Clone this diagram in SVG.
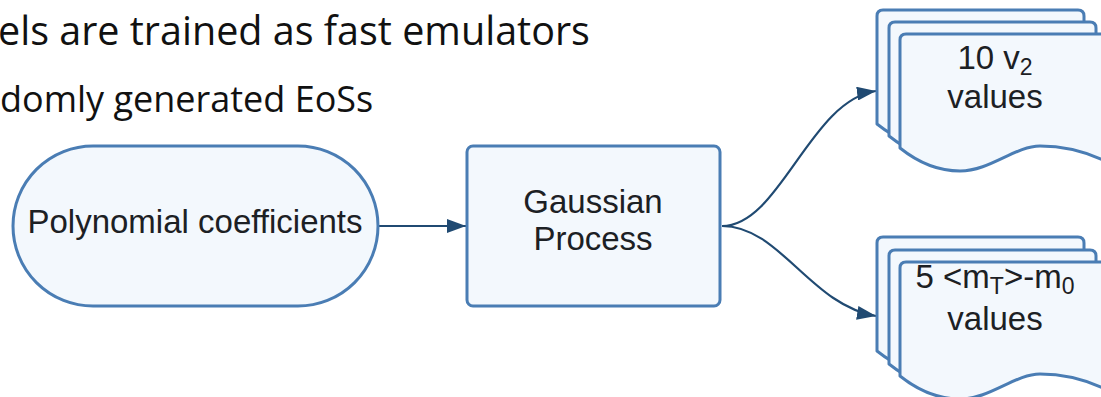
<svg xmlns="http://www.w3.org/2000/svg" width="1101" height="397" viewBox="0 0 1101 397">
  <defs>
    <style>
      .shape { fill: #f3f8fd; stroke: #4a7db4; stroke-width: 3; stroke-linejoin: round; }
      .label { font-family: "Liberation Sans", Arial, sans-serif; font-size: 33px; fill: #1c2024; text-anchor: middle; }
      .sub { font-size: 23px; }
      .title { font-family: "Open Sans", "Noto Sans", sans-serif; fill: #111111; }
      .link { fill: none; stroke: #204a72; stroke-width: 2.2; }
    </style>
    <marker id="arrow" viewBox="0 0 19 14" refX="19" refY="7" markerWidth="19" markerHeight="14" markerUnits="userSpaceOnUse" orient="auto">
      <path d="M0,0 L19,7 L0,14 Z" fill="#204a72"/>
    </marker>
    <!-- page outline with a wavy lower edge, origin at its top-left corner -->
    <path id="page" d="M0,6 Q0,0 6,0 H201 Q207,0 207,6 V128 C185,117 162,112 140,112 C115,112 90,137 60,137 C35,137 15,126 0,114 Z"/>
  </defs>

  <!-- heading lines -->
  <text class="title" x="-2" y="45" font-size="39.5">els are trained as fast emulators</text>
  <text class="title" x="0" y="112" font-size="36">domly generated EoSs</text>

  <!-- connectors -->
  <g id="connectors">
    <path class="link" d="M378,226 H466" marker-end="url(#arrow)"/>
    <path class="link" d="M722,226 C780,226 810,100 876,91" marker-end="url(#arrow)"/>
    <path class="link" d="M722,226 C780,226 810,305 876,316" marker-end="url(#arrow)"/>
  </g>

  <g id="node-coefficients">
    <rect class="shape" x="13" y="146" width="365" height="160" rx="80" ry="80"/>
    <text class="label" x="195" y="233">Polynomial coefficients</text>
  </g>

  <g id="node-gp">
    <rect class="shape" x="467" y="146" width="253" height="160" rx="6" ry="6"/>
    <text class="label" x="593" y="213">Gaussian</text>
    <text class="label" x="593" y="250">Process</text>
  </g>

  <g id="node-v2">
    <use href="#page" class="shape" x="877" y="10"/>
    <use href="#page" class="shape" x="889" y="22"/>
    <use href="#page" class="shape" x="900" y="34"/>
    <text class="label" x="995" y="69">10 v<tspan class="sub" dy="6">2</tspan></text>
    <text class="label" x="995" y="108">values</text>
  </g>

  <g id="node-mt">
    <use href="#page" class="shape" x="877" y="237"/>
    <use href="#page" class="shape" x="889" y="250"/>
    <use href="#page" class="shape" x="900" y="262"/>
    <text class="label" x="995" y="288">5 &lt;m<tspan class="sub" dy="6">T</tspan><tspan dy="-6">&gt;-m</tspan><tspan class="sub" dy="6">0</tspan></text>
    <text class="label" x="995" y="330">values</text>
  </g>
</svg>
